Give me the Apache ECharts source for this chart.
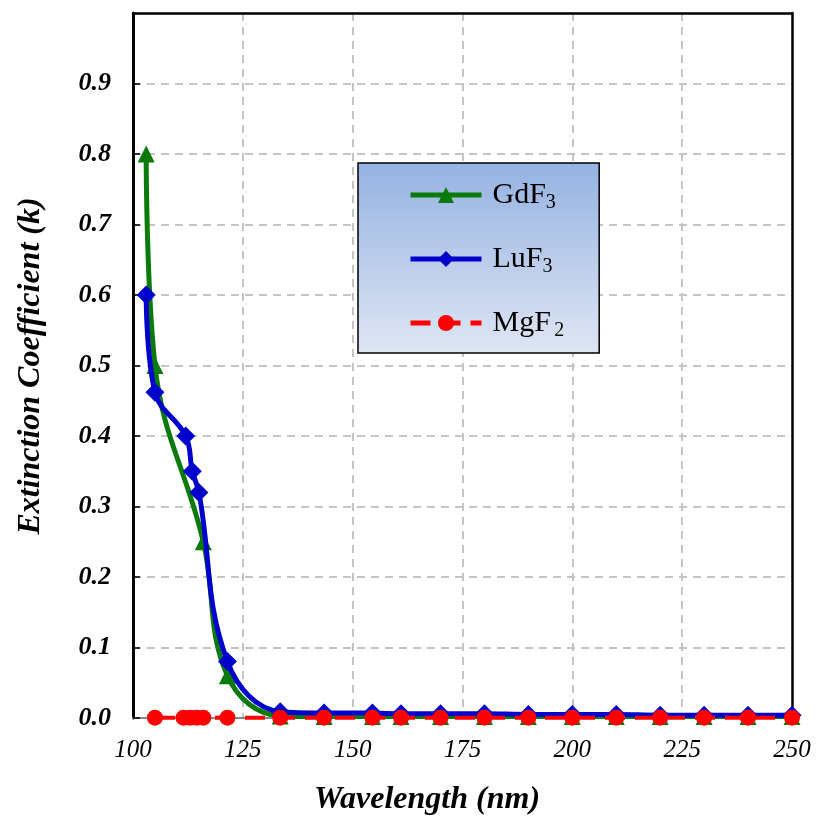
<!DOCTYPE html>
<html><head><meta charset="utf-8">
<script src="https://cdn.jsdelivr.net/npm/echarts@6/dist/echarts.min.js"></script>
<style>html,body{margin:0;padding:0;background:#fff}#c{width:816px;height:817px}</style>
</head><body><div id="c"></div>
<script>
const gdfX = [103,105,116,121.5,133.5,143.5,154.5,161,170,180,190,200,210,220,230,240,250];
const gdfY = [0.8,0.5,0.25,0.06,0.003,0.002,0.002,0.002,0.002,0.002,0.002,0.002,0.002,0.002,0.002,0.002,0.002];
const lufX = [103,105,112,113.5,115,121.5,133.5,143.5,154.5,161,170,180,190,200,210,220,230,240,250];
const lufY = [0.6,0.462,0.4,0.35,0.32,0.08,0.009,0.007,0.007,0.006,0.006,0.006,0.005,0.005,0.005,0.004,0.004,0.004,0.004];
const mgfX = [105,111.5,113,114.5,116,121.5,133.5,143.5,154.5,161,170,180,190,200,210,220,230,240,250];
const mgfY = [0.0005,0.0005,0.0005,0.0005,0.0005,0.0005,0.0005,0.0005,0.0005,0.0005,0.0005,0.0005,0.0005,0.0005,0.0005,0.0005,0.0005,0.0005,0.0005];
const xTicks = {min:100, max:250, interval:25};
const yTicks = {min:0, max:1, interval:0.1};

const zip = (xs, ys) => xs.map((x,i)=>[x, ys[i]]);
const serif = '"Liberation Serif","Times New Roman",serif';
const grid = {left:133, right:24, top:13, bottom:99};
const splitStyle = {color:'#c4c4c4', width:2, type:[8,6]};
const chart = echarts.init(document.getElementById('c'));
chart.setOption({
  animation:false,
  grid:grid,
  xAxis:[{type:'value', min:xTicks.min, max:xTicks.max, interval:xTicks.interval,
    axisLine:{show:true, onZero:false, lineStyle:{color:'#888', width:2}},
    axisTick:{show:false},
    splitLine:{show:true, showMinLine:false, showMaxLine:false, lineStyle:splitStyle},
    axisLabel:{color:'#000', fontFamily:serif, fontStyle:'italic', fontSize:25, margin:20}
  },{type:'value', position:'top', min:xTicks.min, max:xTicks.max,
    axisLine:{show:true, onZero:false, lineStyle:{color:'#000', width:2.5}},
    axisTick:{show:false}, axisLabel:{show:false}, splitLine:{show:false}}],
  yAxis:[{type:'value', min:yTicks.min, max:yTicks.max, interval:yTicks.interval,
    axisLine:{show:true, onZero:false, lineStyle:{color:'#000', width:3}},
    axisTick:{show:true, inside:true, length:7, lineStyle:{color:'#000', width:1.5}},
    splitLine:{show:true, showMinLine:false, showMaxLine:false, lineStyle:splitStyle},
    axisLabel:{color:'#000', fontFamily:serif, fontStyle:'italic', fontWeight:'bold', fontSize:26, margin:22, showMaxLabel:false,
      formatter:v=>v.toFixed(1)}
  },{type:'value', position:'right', min:yTicks.min, max:yTicks.max,
    axisLine:{show:true, onZero:false, lineStyle:{color:'#000', width:2.5}},
    axisTick:{show:false}, axisLabel:{show:false}, splitLine:{show:false}}],
  legend:{orient:'vertical', left:358, top:163,
    padding:[17,35,12,50], itemGap:31, itemWidth:71, itemHeight:20,
    backgroundColor:new echarts.graphic.LinearGradient(0,0,0,1,[{offset:0,color:'#95b2e2'},{offset:1,color:'#dfe6f4'}]),
    borderColor:'#000', borderWidth:1.5,
    data:[
      {name:'GdF3', lineStyle:{width:5}},
      {name:'LuF3', lineStyle:{width:5}},
      {name:'MgF2', lineStyle:{width:5}}
    ],
    formatter:n=>{ if(n==='MgF2') return '{a|MgF} {s|2}'; return '{a|'+n.slice(0,-1)+'}{s|'+n.slice(-1)+'}'; },
    textStyle:{padding:[0,0,0,6], rich:{a:{fontFamily:serif, fontSize:30, color:'#000'}, s:{fontFamily:serif, fontSize:20, color:'#000', padding:[16,0,0,0]}}}
  },
  graphic:[
    {type:'text', x:427, y:800, style:{text:'Wavelength (nm)', align:'center', verticalAlign:'middle', font:'italic bold 32px '+serif, fill:'#000'}},
    {type:'text', x:31, y:366, rotation:Math.PI/2, style:{text:'Extinction Coefficient (k)', align:'center', verticalAlign:'middle', font:'italic bold 32px '+serif, fill:'#000'}}
  ],
  series:[
    {name:'GdF3', type:'line', data:zip(gdfX,gdfY), smooth:0.4, symbol:'triangle', symbolSize:17,
      lineStyle:{color:'#0a7a0a', width:5}, itemStyle:{color:'#0a7a0a'}, z:2},
    {name:'LuF3', type:'line', data:zip(lufX,lufY), smooth:0.4, symbol:'diamond', symbolSize:[19,19],
      lineStyle:{color:'#0000cc', width:5}, itemStyle:{color:'#0000cc'}, z:3},
    {name:'MgF2', type:'line', data:zip(mgfX,mgfY), symbol:'circle', symbolSize:16,
      lineStyle:{color:'#ff0000', width:4, type:[20,10]}, itemStyle:{color:'#ff0000'}, z:4}
  ]
});
</script></body></html>
